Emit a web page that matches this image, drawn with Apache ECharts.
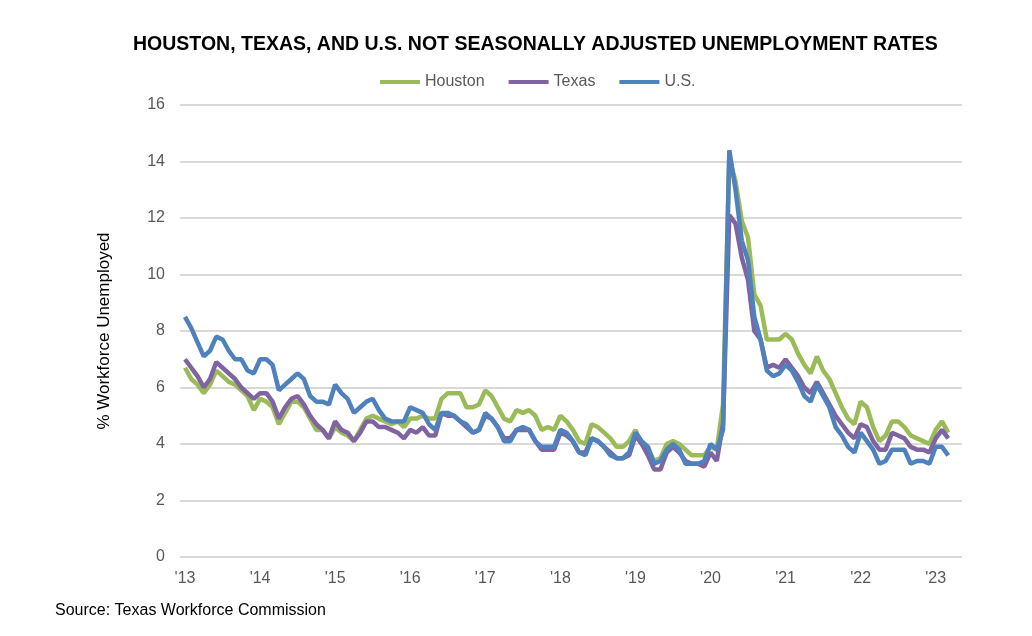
<!DOCTYPE html>
<html>
<head>
<meta charset="utf-8">
<script src="https://cdn.jsdelivr.net/npm/echarts@6/dist/echarts.min.js"></script>
<style>
html,body{margin:0;padding:0;background:#fff;}
#chart{width:1032px;height:636px;}
</style>
</head>
<body>
<div id="chart"></div>
<script>
// Monthly, Jan 2013 – Mar 2023
const startYear = 2013;
const xTickLabels = ["'13","'14","'15","'16","'17","'18","'19","'20","'21","'22","'23"];
const yTicks = [0, 2, 4, 6, 8, 10, 12, 14, 16];

const houston = [
  6.7, 6.3, 6.1, 5.8, 6.1, 6.6, 6.4, 6.2, 6.1, 5.9, 5.7, 5.2,
  5.6, 5.5, 5.3, 4.7, 5.1, 5.5, 5.5, 5.3, 4.9, 4.5, 4.5, 4.2,
  4.6, 4.4, 4.3, 4.1, 4.5, 4.9, 5.0, 4.9, 4.8, 4.7, 4.8, 4.6,
  4.9, 4.9, 5.0, 4.9, 4.9, 5.6, 5.8, 5.8, 5.8, 5.3, 5.3, 5.4,
  5.9, 5.7, 5.3, 4.9, 4.8, 5.2, 5.1, 5.2, 5.0, 4.5, 4.6, 4.5,
  5.0, 4.8, 4.5, 4.1, 4.0, 4.7, 4.6, 4.4, 4.2, 3.9, 3.9, 4.1,
  4.5, 4.0, 3.8, 3.4, 3.5, 4.0, 4.1, 4.0, 3.8, 3.6, 3.6, 3.6,
  3.9, 3.8, 5.4, 14.1, 13.3, 11.9, 11.3, 9.3, 8.9, 7.7, 7.7, 7.7,
  7.9, 7.7, 7.2, 6.8, 6.5, 7.1, 6.6, 6.3, 5.8, 5.3, 4.9, 4.7,
  5.5, 5.3, 4.6, 4.1, 4.3, 4.8, 4.8, 4.6, 4.3, 4.2, 4.1, 4.0,
  4.5, 4.8, 4.4
];
const texas = [
  7.0, 6.7, 6.4, 6.0, 6.3, 6.9, 6.7, 6.5, 6.3, 6.0, 5.8, 5.6,
  5.8, 5.8, 5.5, 4.9, 5.3, 5.6, 5.7, 5.4, 5.0, 4.7, 4.5, 4.2,
  4.8, 4.5, 4.4, 4.1, 4.4, 4.8, 4.8, 4.6, 4.6, 4.5, 4.4, 4.2,
  4.5, 4.4, 4.6, 4.3, 4.3, 5.1, 5.0, 5.0, 4.8, 4.6, 4.4, 4.5,
  5.0, 4.9, 4.6, 4.2, 4.2, 4.5, 4.5, 4.5, 4.1, 3.8, 3.8, 3.8,
  4.4, 4.3, 4.1, 3.7, 3.7, 4.2, 4.1, 3.9, 3.7, 3.5, 3.5, 3.6,
  4.3, 4.0, 3.6, 3.1, 3.1, 3.7, 3.9, 3.7, 3.4, 3.3, 3.3, 3.2,
  3.7, 3.4, 4.7, 12.1, 11.8, 10.6, 9.8, 8.0, 7.7, 6.7, 6.8, 6.7,
  7.0, 6.7, 6.4, 6.0, 5.8, 6.2, 5.8, 5.4, 5.0, 4.7, 4.4, 4.2,
  4.7, 4.6, 4.1, 3.8, 3.8, 4.4, 4.3, 4.2, 3.9, 3.8, 3.8, 3.7,
  4.2, 4.5, 4.2
];
const us = [
  8.5, 8.1, 7.6, 7.1, 7.3, 7.8, 7.7, 7.3, 7.0, 7.0, 6.6, 6.5,
  7.0, 7.0, 6.8, 5.9, 6.1, 6.3, 6.5, 6.3, 5.7, 5.5, 5.5, 5.4,
  6.1, 5.8, 5.6, 5.1, 5.3, 5.5, 5.6, 5.2, 4.9, 4.8, 4.8, 4.8,
  5.3, 5.2, 5.1, 4.7, 4.5, 5.1, 5.1, 5.0, 4.8, 4.7, 4.4, 4.5,
  5.1, 4.9, 4.6, 4.1, 4.1, 4.5, 4.6, 4.5, 4.1, 3.9, 3.9, 3.9,
  4.5, 4.4, 4.1, 3.7, 3.6, 4.2, 4.1, 3.9, 3.6, 3.5, 3.5, 3.7,
  4.4, 4.1, 3.9, 3.3, 3.4, 3.8, 4.0, 3.8, 3.3, 3.3, 3.3, 3.4,
  4.0, 3.8, 4.5, 14.4, 13.0, 11.2, 10.5, 8.5, 7.7, 6.6, 6.4, 6.5,
  6.8, 6.6, 6.2, 5.7, 5.5, 6.1, 5.7, 5.3, 4.6, 4.3, 3.9, 3.7,
  4.4, 4.1, 3.8, 3.3, 3.4, 3.8, 3.8, 3.8, 3.3, 3.4, 3.4, 3.3,
  3.9, 3.9, 3.6
];

const FONT = "'Liberation Sans', Arial, sans-serif";
const toPairs = arr => arr.map((v, i) => [i, v]);

const chart = echarts.init(document.getElementById('chart'), null, {renderer: 'canvas'});
chart.setOption({
  backgroundColor: '#ffffff',
  animation: false,
  color: ['#9bbb59', '#8064a2', '#4f81bd'],
  textStyle: {fontFamily: FONT},
  title: {
    text: 'HOUSTON, TEXAS, AND U.S. NOT SEASONALLY ADJUSTED UNEMPLOYMENT RATES',
    left: 128, top: 30,
    textStyle: {fontFamily: FONT, fontSize: 19.5, fontWeight: 'bold', color: '#000000'}
  },
  legend: {
    top: 69, left: 375,
    icon: 'rect', itemWidth: 40, itemHeight: 4, itemGap: 24,
    textStyle: {fontFamily: FONT, fontSize: 16, color: '#595959'},
    data: ['Houston', 'Texas', 'U.S.']
  },
  grid: {left: 180, right: 70, top: 105, bottom: 79, containLabel: false},
  xAxis: {
    type: 'value', min: -0.8, max: 124.2,
    axisLine: {show: false}, axisTick: {show: false}, splitLine: {show: false},
    axisLabel: {
      customValues: xTickLabels.map((_, k) => k * 12),
      formatter: v => xTickLabels[Math.round(v / 12)] || '',
      fontFamily: FONT, fontSize: 16, color: '#595959', margin: 14
    }
  },
  yAxis: {
    type: 'value', min: 0, max: 16, interval: 2,
    name: '% Workforce Unemployed', nameLocation: 'middle', nameGap: 67, nameRotate: 90,
    nameTextStyle: {fontFamily: FONT, fontSize: 17, color: '#000000'},
    axisLine: {show: false}, axisTick: {show: false},
    splitLine: {lineStyle: {color: '#d9d9d9', width: 2}},
    axisLabel: {fontFamily: FONT, fontSize: 16, color: '#595959', margin: 15}
  },
  series: [
    {name: 'Houston', type: 'line', data: toPairs(houston), showSymbol: false, lineStyle: {width: 4.5, color: '#9bbb59'}, z: 2},
    {name: 'Texas', type: 'line', data: toPairs(texas), showSymbol: false, lineStyle: {width: 4.5, color: '#8064a2'}, z: 3},
    {name: 'U.S.', type: 'line', data: toPairs(us), showSymbol: false, lineStyle: {width: 4.5, color: '#4f81bd'}, z: 4}
  ],
  graphic: [{
    type: 'text', left: 55, top: 603,
    style: {text: 'Source: Texas Workforce Commission', fontFamily: FONT, fontSize: 16, fill: '#000000'}
  }]
});
</script>
</body>
</html>
